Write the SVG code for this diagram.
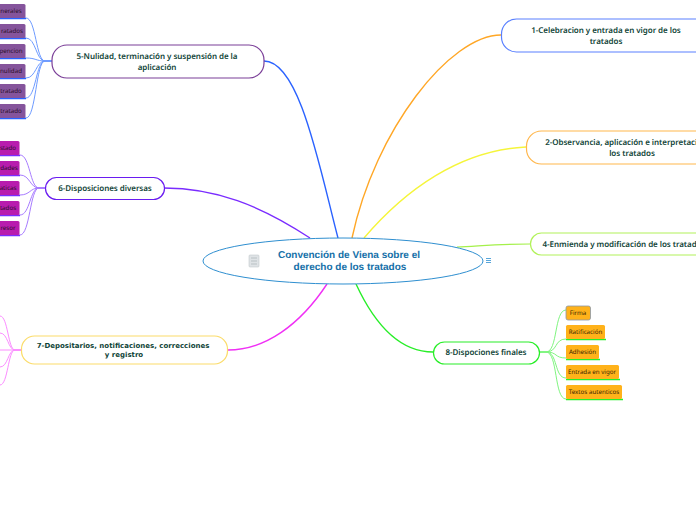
<svg xmlns="http://www.w3.org/2000/svg" width="696" height="520" viewBox="0 0 696 520">
<style>
text{font-family:"Noto Sans","Open Sans",sans-serif;text-rendering:geometricPrecision}
.t{font-size:8px;font-weight:600;letter-spacing:-.05px;fill:#0f4437;text-anchor:middle}
.s{font-size:6.2px;fill:#2a122a;text-anchor:middle}
.o{fill:#3a2600}
.n{fill:#fff;stroke-width:1.2}
.c{fill:none}
.leaf{stroke-width:1}
.d7{font-size:7px;font-weight:700;fill:#0f4437;text-anchor:middle;font-family:"DejaVu Sans",sans-serif}
.ctr{font-size:10px;font-weight:700;fill:#1570a8;text-anchor:middle;font-family:"Liberation Sans",sans-serif}
</style>
<rect width="696" height="520" fill="#fff"/>
<g id="connectors" class="c">
<path d="M264 61C300 61 320 170 338 238" stroke="#2a62ff" stroke-width="1.4"/>
<path d="M164 188C215 188 260 205 310 238" stroke="#7a2cff" stroke-width="1.4"/>
<path d="M228 350C265 350 300 325 327 284" stroke="#f030f5" stroke-width="1.4"/>
<path d="M501 35C450 35 375 130 352 238" stroke="#ffa726" stroke-width="1.4"/>
<path d="M526 147C460 150 405 190 364 238" stroke="#f5f53a" stroke-width="1.4"/>
<path d="M530 244C500 244 480 246 457 247" stroke="#a4f04a" stroke-width="1.2"/>
<path d="M433 352C400 352 375 325 356 284" stroke="#28ee28" stroke-width="1.4"/>
<g class="leaf" stroke="#6e9bff">
<path d="M52 61H45C36 61 36 18 26 18H0"/><path d="M52 61H45C36 61 36 38 26 38H0"/><path d="M52 61H45C36 61 36 58 26 58H0"/><path d="M52 61H45C36 61 36 78 26 78H0"/><path d="M52 61H45C36 61 36 98 26 98H0"/><path d="M52 61H45C36 61 36 118 26 118H0"/>
</g>
<g class="leaf" stroke="#a77bff">
<path d="M45 188H39C30 188 30 155 20 155H0"/><path d="M45 188H39C30 188 30 175 20 175H0"/><path d="M45 188H39C30 188 30 195 20 195H0"/><path d="M45 188H39C30 188 30 215 20 215H0"/><path d="M45 188H39C30 188 30 235 20 235H0"/>
</g>
<g class="leaf" stroke="#fb8cff">
<path d="M21 350H15C8 350 8 316 0 316"/><path d="M21 350H15C8 350 8 333 0 333"/><path d="M21 350H0"/><path d="M21 350H15C8 350 8 367 0 367"/><path d="M21 350H15C8 350 8 385 0 385"/>
</g>
<g class="leaf" stroke="#7ff57f">
<path d="M539 352H546C558 352 554 310 566 310"/><path d="M539 352H546C558 352 554 339 566 339"/><path d="M539 352H546C558 352 554 358 566 358"/><path d="M539 352H546C558 352 554 378 566 378"/><path d="M539 352H546C558 352 554 399 566 399"/>
</g>
<g stroke-width="1.3">
<path stroke="#2a62ff" d="M0 18.500H26M0 38.500H26M0 58.500H26M0 78.500H26M0 98.500H26M0 118.500H26"/>
<path stroke="#7a2cff" d="M0 155.500H20M0 175.500H20M0 195.500H20M0 215.500H20M0 235.500H20"/>
<path stroke="#28ee28" d="M566 339.500H606M566 359.500H600M566 379.500H620M566 399.500H623"/>
</g>
</g>
<g id="center">
<ellipse cx="343" cy="261" rx="140" ry="23" fill="#fff" stroke="#2f8fd0" stroke-width="1"/>
<g id="center-icon"><rect x="249" y="255" width="10" height="12" rx="1" fill="#dfe3e6" stroke="#c4cacd" stroke-width=".6"/><path d="M251 258h6M251 261h6M251 264h6" stroke="#aab2b6" stroke-width=".7"/></g>
<text class="ctr" x="349" y="258">Convención de Viena sobre el</text>
<text class="ctr" x="350" y="270">derecho de los tratados</text>
<path id="center-menu" d="M486 258.500h5M486 260.500h5M486 262.500h5" stroke="#2f8fd0" stroke-width=".8" fill="none"/>
</g>
<g id="node1"><rect class="n" x="501.500" y="19" width="240" height="33" rx="15" stroke="#5a80ff"/><text class="t" x="606" y="33">1-Celebracion y entrada en vigor de los</text><text class="t" x="606" y="44">tratados</text></g>
<g id="node2"><rect class="n" x="526.500" y="131" width="240" height="33" rx="15" stroke="#ffb74d"/><text class="t" x="632" y="145">2-Observancia, aplicación e interpretación de</text><text class="t" x="632" y="156">los tratados</text></g>
<g id="node4"><rect class="n" x="530.500" y="233" width="240" height="22" rx="11" stroke="#b2f25a"/><text class="t" x="624" y="247">4-Enmienda y modificación de los tratados</text></g>
<g id="node5"><rect class="n" x="52" y="45" width="212" height="33" rx="15" stroke="#7b3f98"/><text class="t" x="157" y="59">5-Nulidad, terminación y suspensión de la</text><text class="t" x="157" y="70">aplicación</text></g>
<g id="node6"><rect class="n" x="45.500" y="177.500" width="119" height="22" rx="11" stroke="#6a1cf0"/><text class="t" x="105" y="191">6-Disposiciones diversas</text></g>
<g id="node7"><rect class="n" x="21.500" y="336" width="206" height="28" rx="13" stroke="#fbdc6a"/><text class="d7" x="123" y="348">7-Depositarios, notificaciones, correcciones</text><text class="d7" x="124" y="357">y registro</text></g>
<g id="node8"><rect class="n" x="433.500" y="342" width="106" height="22" rx="11" stroke="#28ee28"/><text class="t" x="486" y="355">8-Dispociones finales</text></g>
<g id="leaf51"><rect x="-30" y="4" width="55.500" height="14" rx="1.500" fill="#85549c"/><text class="s" x="11" y="13">nerales</text></g>
<g id="leaf52"><rect x="-30" y="24" width="55.500" height="14" rx="1.500" fill="#85549c"/><text class="s" x="12" y="33">ratados</text></g>
<g id="leaf53"><rect x="-30" y="44" width="55.500" height="14" rx="1.500" fill="#85549c"/><text class="s" x="11" y="53">pencion</text></g>
<g id="leaf54"><rect x="-30" y="64" width="55.500" height="14" rx="1.500" fill="#85549c"/><text class="s" x="11" y="73">nulidad</text></g>
<g id="leaf55"><rect x="-30" y="84" width="55.500" height="14" rx="1.500" fill="#85549c"/><text class="s" x="11" y="93">tratado</text></g>
<g id="leaf56"><rect x="-30" y="104" width="55.500" height="14" rx="1.500" fill="#85549c"/><text class="s" x="11" y="113">tratado</text></g>
<g id="leaf61"><rect x="-30" y="141" width="49.500" height="14" rx="1.500" fill="#b81cae"/><text class="s" x="8" y="150">stado</text></g>
<g id="leaf62"><rect x="-30" y="161" width="49.500" height="14" rx="1.500" fill="#b81cae"/><text class="s" x="9" y="170">dades</text></g>
<g id="leaf63"><rect x="-30" y="181" width="49.500" height="14" rx="1.500" fill="#b81cae"/><text class="s" x="8" y="190">aticas</text></g>
<g id="leaf64"><rect x="-30" y="201" width="49.500" height="14" rx="1.500" fill="#b81cae"/><text class="s" x="8" y="210">tados</text></g>
<g id="leaf65"><rect x="-30" y="221" width="49.500" height="14" rx="1.500" fill="#b81cae"/><text class="s" x="8" y="230">resor</text></g>
<g id="leaf81"><rect x="566" y="306" width="24.500" height="14" rx="2" fill="#ffb21a" stroke="#8a97a8" stroke-width=".8"/><text class="s o" x="578" y="315">Firma</text></g>
<g id="leaf82"><rect x="566" y="325" width="39" height="14" rx="1.500" fill="#ffb21a"/><text class="s o" x="585.500" y="334">Ratificación</text></g>
<g id="leaf83"><rect x="566" y="345" width="33" height="14" rx="1.500" fill="#ffb21a"/><text class="s o" x="582.500" y="354">Adhesión</text></g>
<g id="leaf84"><rect x="566" y="365" width="53" height="14" rx="1.500" fill="#ffb21a"/><text class="s o" x="592" y="374">Entrada en vigor</text></g>
<g id="leaf85"><rect x="566" y="385" width="56" height="14" rx="1.500" fill="#ffb21a"/><text class="s o" x="594" y="394">Textos autenticos</text></g>
</svg>
